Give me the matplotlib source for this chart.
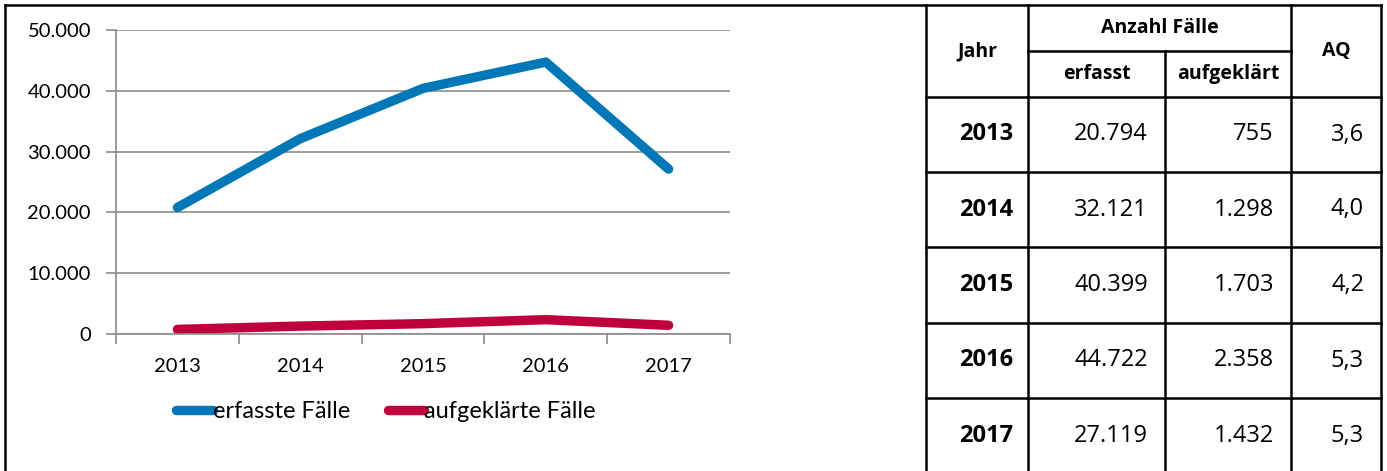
import matplotlib
matplotlib.use("Agg")
import matplotlib.pyplot as plt
from matplotlib.lines import Line2D
from matplotlib.ticker import FuncFormatter

years = ["2013", "2014", "2015", "2016", "2017"]
erfasst = [20794, 32121, 40399, 44722, 27119]
aufgeklaert = [755, 1298, 1703, 2358, 1432]
aq = ["3,6", "4,0", "4,2", "5,3", "5,3"]

blue = "#0077b6"
red = "#c0003c"
grid_col = "#8c8c8c"

W, H = 1387, 471
fig = plt.figure(figsize=(W / 100, H / 100), dpi=100)


def de(v):
    return f"{int(v):,}".replace(",", ".")


# ---- line chart ----
x0, x1, y0, y1 = 116, 730, 30, 334
ax = fig.add_axes([x0 / W, 1 - y1 / H, (x1 - x0) / W, (y1 - y0) / H])
xs = range(len(years))
ax.plot(xs, erfasst, color=blue, lw=6.8, solid_capstyle="round", solid_joinstyle="round")
ax.plot(xs, aufgeklaert, color=red, lw=6.8, solid_capstyle="round", solid_joinstyle="round")
ax.set_xlim(-0.5, len(years) - 0.5)
ax.set_ylim(0, 50000)
ax.set_yticks(range(0, 50001, 10000))
ax.yaxis.set_major_formatter(FuncFormatter(lambda v, p: de(v)))
ax.yaxis.grid(True, color=grid_col, lw=1.2)
ax.set_axisbelow(True)
ax.set_xticks([i - 0.5 for i in range(len(years) + 1)])
ax.set_xticklabels([])
ax.set_xticks(list(xs), minor=True)
ax.set_xticklabels(years, minor=True)
ax.tick_params(axis="x", which="major", length=7, color=grid_col, width=1.2)
ax.tick_params(axis="x", which="minor", length=0, pad=17, labelsize=14.5)
ax.tick_params(axis="y", length=7, color=grid_col, width=1.2, labelsize=14.5, pad=11)
for lab in ax.get_xticklabels(minor=True) + ax.get_yticklabels():
    lab.set_fontfamily("Lato")
for s in ["top", "right"]:
    ax.spines[s].set_visible(False)
ax.spines["left"].set_color(grid_col)
ax.spines["bottom"].set_color(grid_col)
ax.spines["left"].set_linewidth(1.2)
ax.spines["bottom"].set_linewidth(1.2)

handles = [Line2D([], [], color=blue, lw=6.8, solid_capstyle="round"),
           Line2D([], [], color=red, lw=6.8, solid_capstyle="round")]
fig.legend(handles, ["erfasste Fälle", "aufgeklärte Fälle"], loc="center left",
           bbox_to_anchor=(176 / W, 1 - 412 / H), ncol=2, frameon=False,
           borderpad=0, borderaxespad=0,
           handlelength=1.55, handletextpad=0.0, columnspacing=1.6,
           prop={"family": "Lato", "size": 17})

# ---- table ----
tab = fig.add_axes([0, 0, 1, 1])
tab.set_xlim(0, W)
tab.set_ylim(H, 0)
tab.axis("off")
lw = 1.8
k = "black"
cols = [926, 1028, 1165, 1291, 1381]
rows = [97, 172, 247, 323, 398, 474]
# outer frame of whole figure
tab.plot([5, 5], [5, H], color=k, lw=lw)
tab.plot([5, 1381], [5, 5], color=k, lw=lw)
for c in [cols[0], cols[1], cols[3], cols[4]]:
    tab.plot([c, c], [5, H], color=k, lw=lw)
tab.plot([cols[2], cols[2]], [51, H], color=k, lw=lw)
for r in rows[:-1]:
    tab.plot([cols[0], cols[-1]], [r, r], color=k, lw=lw)
tab.plot([cols[1], cols[3]], [51, 51], color=k, lw=lw)

hf = {"family": "Open Sans", "weight": "bold", "size": 14}
tab.text((cols[0] + cols[1]) / 2, 51, "Jahr", ha="center", va="center", **hf)
tab.text((cols[1] + cols[3]) / 2, 28, "Anzahl Fälle", ha="center", va="center", **hf)
tab.text((cols[1] + cols[2]) / 2, 74, "erfasst", ha="center", va="center", **hf)
tab.text((cols[2] + cols[3]) / 2, 74, "aufgeklärt", ha="center", va="center", **hf)
tab.text((cols[3] + cols[4]) / 2, 51, "AQ", ha="center", va="center", **hf)

for i, y in enumerate(years):
    cy = (rows[i] + rows[i + 1]) / 2
    tab.text(cols[1] - 15, cy, y, ha="right", va="center",
             family="Open Sans", weight="bold", size=17)
    tab.text(cols[2] - 17, cy, de(erfasst[i]), ha="right", va="center",
             family="Open Sans", size=17)
    tab.text(cols[3] - 17, cy, de(aufgeklaert[i]), ha="right", va="center",
             family="Open Sans", size=17)
    tab.text(cols[4] - 17, cy, aq[i], ha="right", va="center",
             family="Open Sans", size=17)

fig.savefig("out.png", dpi=100)
